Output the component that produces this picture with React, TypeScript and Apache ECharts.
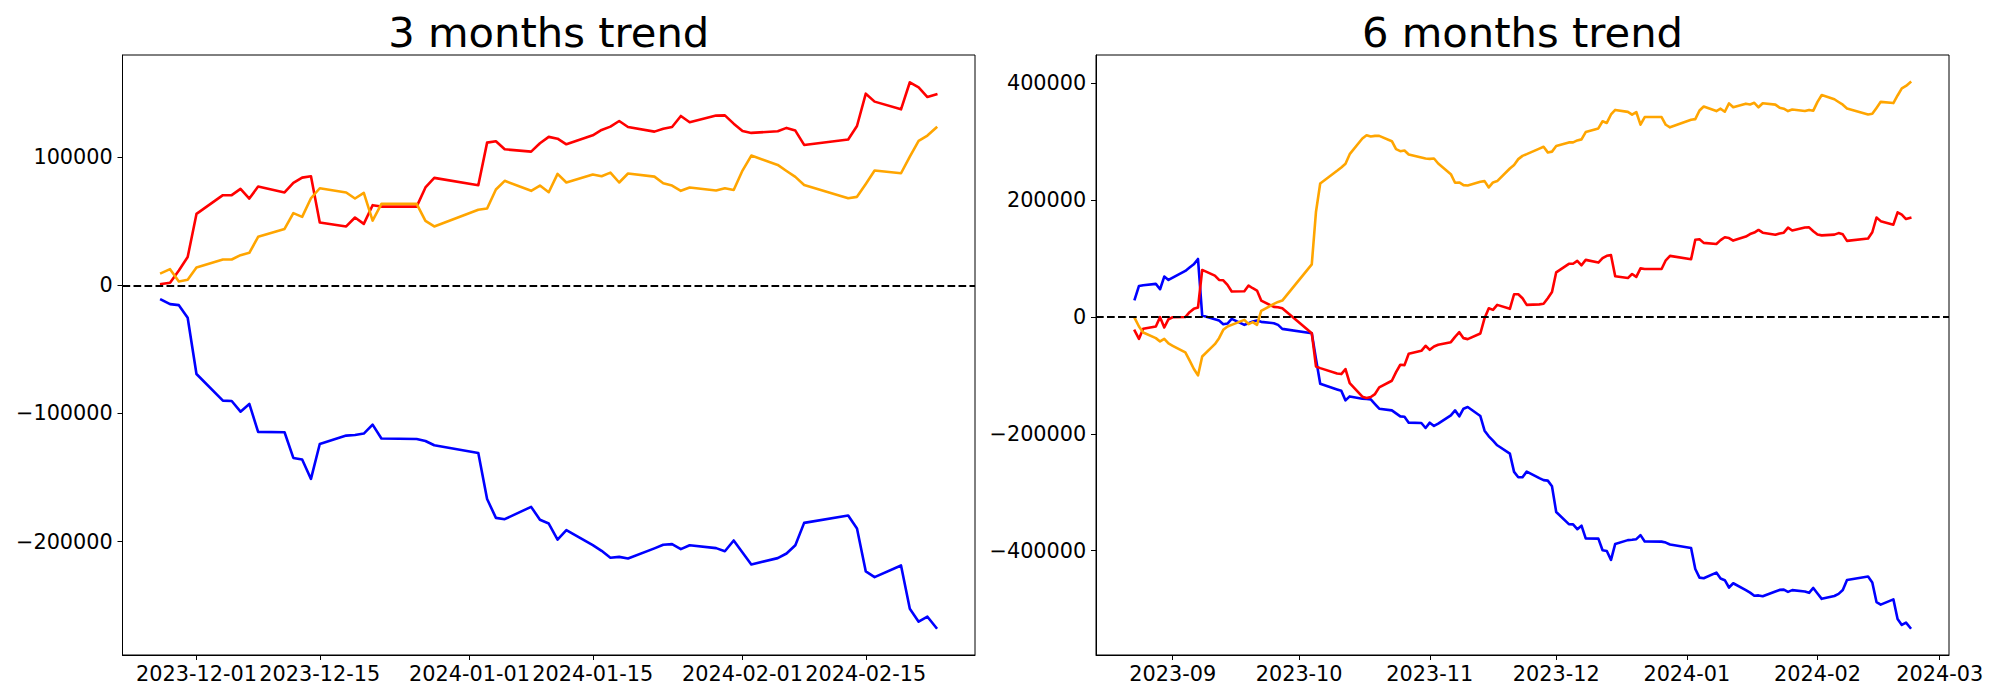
import React, { useEffect, useRef } from 'react';
import * as echarts from 'echarts';

// ---------- 3 months data ----------
const dates3m = [
  '2023-11-27', '2023-11-28', '2023-11-29', '2023-11-30', '2023-12-01',
  '2023-12-04', '2023-12-05', '2023-12-06', '2023-12-07', '2023-12-08',
  '2023-12-11', '2023-12-12', '2023-12-13', '2023-12-14', '2023-12-15',
  '2023-12-18', '2023-12-19', '2023-12-20', '2023-12-21', '2023-12-22',
  '2023-12-26', '2023-12-27', '2023-12-28',
  '2024-01-02', '2024-01-03', '2024-01-04', '2024-01-05',
  '2024-01-08', '2024-01-09', '2024-01-10', '2024-01-11', '2024-01-12',
  '2024-01-15', '2024-01-16', '2024-01-17', '2024-01-18', '2024-01-19',
  '2024-01-22', '2024-01-23', '2024-01-24', '2024-01-25', '2024-01-26',
  '2024-01-29', '2024-01-30', '2024-01-31', '2024-02-01', '2024-02-02',
  '2024-02-05', '2024-02-06', '2024-02-07', '2024-02-08',
  '2024-02-13', '2024-02-14', '2024-02-15', '2024-02-16',
  '2024-02-19', '2024-02-20', '2024-02-21', '2024-02-22', '2024-02-23',
];
const red3m = [
  900, 2000, 11500, 22000, 55700,
  70300, 70300, 75200, 67700, 77000,
  72400, 79900, 84000, 85100, 49000,
  45900, 52900, 47900, 62500, 61400,
  61400, 76300, 83800,
  78100, 111300, 112400, 106100,
  104300, 110800, 115800, 114400, 110000,
  117000, 121200, 123800, 128200, 123500,
  119900, 122200, 123500, 132100, 127200,
  132400, 132600, 126100, 120400, 118900,
  120200, 122800, 120700, 109500,
  113700, 124300, 149500, 143300,
  137300, 158400, 154500, 146900, 149000,
];
const orange3m = [
  9500, 12600, 3000, 4300, 13900,
  20100, 20100, 23500, 25300, 37800,
  44000, 56300, 53400, 67900, 75700,
  72400, 67700, 72100, 50500, 63500,
  63500, 50300, 45900,
  58900, 59900, 74700, 81500,
  73700, 77800, 72600, 86900, 80200,
  86400, 85100, 87900, 80200, 87200,
  84800, 79600, 77800, 73700, 76300,
  73900, 75700, 74400, 89500, 101200,
  93900, 89200, 84600, 78300,
  67900, 69000, 79100, 89500,
  87400, 100400, 112600, 116800, 123000,
];
const blue3m = [
  -11300, -14700, -15500, -25300, -69200,
  -90000, -90300, -98600, -92600, -114400,
  -114700, -134700, -136000, -151100, -123800,
  -117300, -116800, -115700, -108700, -119600,
  -119900, -121500, -124800,
  -130800, -166700, -181500, -182500,
  -172900, -183000, -185900, -198400, -191100,
  -202800, -207200, -212600, -211900, -213200,
  -205300, -202500, -202000, -205900, -202800,
  -205100, -207500, -199100, -208500, -217800,
  -212900, -209300, -202800, -185400,
  -179700, -189800, -223300, -227700,
  -218600, -252400, -262500, -258600, -267200,
];

// ---------- 6 months data ----------
const dates6m = [
  '2023-08-23', '2023-08-24', '2023-08-25', '2023-08-28', '2023-08-29', '2023-08-30', '2023-08-31',
  '2023-09-01', '2023-09-04', '2023-09-05', '2023-09-06', '2023-09-07', '2023-09-08',
  '2023-09-11', '2023-09-12', '2023-09-13', '2023-09-14', '2023-09-15',
  '2023-09-18', '2023-09-19', '2023-09-20', '2023-09-21', '2023-09-22',
  '2023-09-25', '2023-09-26', '2023-09-27',
  '2023-10-04', '2023-10-05', '2023-10-06',
  '2023-10-10', '2023-10-11', '2023-10-12', '2023-10-13',
  '2023-10-16', '2023-10-17', '2023-10-18', '2023-10-19', '2023-10-20',
  '2023-10-23', '2023-10-24', '2023-10-25', '2023-10-26', '2023-10-27',
  '2023-10-30', '2023-10-31', '2023-11-01', '2023-11-02', '2023-11-03',
  '2023-11-06', '2023-11-07', '2023-11-08', '2023-11-09', '2023-11-10',
  '2023-11-13', '2023-11-14', '2023-11-15', '2023-11-16', '2023-11-17',
  '2023-11-20', '2023-11-21', '2023-11-22', '2023-11-23', '2023-11-24',
  '2023-11-27', '2023-11-28', '2023-11-29', '2023-11-30', '2023-12-01',
  '2023-12-04', '2023-12-05', '2023-12-06', '2023-12-07', '2023-12-08',
  '2023-12-11', '2023-12-12', '2023-12-13', '2023-12-14', '2023-12-15',
  '2023-12-18', '2023-12-19', '2023-12-20', '2023-12-21', '2023-12-22',
  '2023-12-26', '2023-12-27', '2023-12-28',
  '2024-01-02', '2024-01-03', '2024-01-04', '2024-01-05',
  '2024-01-08', '2024-01-09', '2024-01-10', '2024-01-11', '2024-01-12',
  '2024-01-15', '2024-01-16', '2024-01-17', '2024-01-18', '2024-01-19',
  '2024-01-22', '2024-01-23', '2024-01-24', '2024-01-25', '2024-01-26',
  '2024-01-29', '2024-01-30', '2024-01-31', '2024-02-01', '2024-02-02',
  '2024-02-05', '2024-02-06', '2024-02-07', '2024-02-08',
  '2024-02-13', '2024-02-14', '2024-02-15', '2024-02-16',
  '2024-02-19', '2024-02-20', '2024-02-21', '2024-02-22', '2024-02-23',
];
const red6m = [
  -23900, -37600, -20500, -16500, -500, -18200, -4000,
  -600, -300, 8000, 13700, 15900, 80300,
  70600, 63200, 62600, 54700, 43300,
  43800, 53500, 49000, 45000, 27900,
  17100, 16500, 14800,
  -27900, -84800, -87700,
  -97000, -97900, -89400, -113300,
  -136600, -138900, -137200, -132100, -120700,
  -109300, -94500, -81900, -82500, -63000,
  -58100, -49500, -56400, -50700, -47800,
  -43300, -34200, -26200, -36400, -38100,
  -28500, -2300, 14800, 12000, 20500,
  13700, 38700, 38700, 31900, 20500,
  21400, 22500, 32000, 42500, 76200,
  90800, 90800, 95700, 88200, 97500,
  92900, 100400, 104500, 105600, 69500,
  66400, 73400, 68400, 83000, 81900,
  81900, 96800, 104300,
  98600, 131800, 132900, 126600,
  124800, 131300, 136300, 134900, 130500,
  137500, 141700, 144300, 148700, 144000,
  140400, 142700, 144000, 152600, 147700,
  152900, 153100, 146600, 140900, 139400,
  140700, 143300, 141200, 130000,
  134200, 144800, 170000, 163800,
  157800, 178900, 175000, 167400, 169500,
];
const orange6m = [
  -2300, -16500, -26800, -36400, -42100, -37600, -45500,
  -49500, -60900, -74600, -88800, -100200, -67800,
  -46700, -36400, -22200, -16500, -13700,
  -5100, -12500, -9100, -13700, 10200,
  22200, 25600, 27900,
  89900, 179900, 228300,
  249900, 255600, 261900, 278400,
  305100, 310800, 308600, 309700, 309700,
  300600, 286900, 283500, 284700, 277800,
  272700, 271000, 270400, 271000, 262400,
  244200, 229400, 230000, 225400, 224900,
  231100, 232300, 221500, 230000, 232300,
  253900, 260000, 269900, 275500, 278400,
  287900, 291000, 281400, 282700, 292300,
  298500, 298500, 301900, 303700, 316200,
  322400, 334700, 331800, 346300, 354100,
  350800, 346100, 350500, 328900, 341900,
  341900, 328700, 324300,
  337300, 338300, 353100, 359900,
  352100, 356200, 351000, 365300, 358600,
  364800, 363500, 366300, 358600, 365600,
  363200, 358000, 356200, 352100, 354700,
  352300, 354100, 352800, 367900, 379600,
  372300, 367600, 363000, 356700,
  346300, 347400, 357500, 367900,
  365800, 378800, 391000, 395200, 401400,
];
const blue6m = [
  30200, 52900, 54100, 56400, 47300, 68900, 63200,
  67200, 78600, 84300, 89900, 99100, 2300,
  -4000, -6300, -12500, -11400, -3400,
  -13700, -10800, -8000, -6300, -8500,
  -10800, -13700, -20500,
  -27900, -72000, -114400,
  -124100, -126400, -142900, -136100,
  -140000, -140600, -141200, -149200, -157100,
  -160000, -165100, -170200, -170800, -181000,
  -181600, -190100, -181000, -186700, -182700,
  -168500, -160000, -170200, -157100, -154300,
  -169700, -194700, -204400, -211800, -219700,
  -234000, -265300, -274400, -274400, -264700,
  -276000, -279400, -280200, -290000, -333900,
  -354700, -355000, -363300, -357300, -379100,
  -379400, -399400, -400700, -415800, -388500,
  -382000, -381500, -380400, -373400, -384300,
  -384600, -386200, -389500,
  -395500, -431400, -446200, -447200,
  -437600, -447700, -450600, -463100, -455800,
  -467500, -471900, -477300, -476600, -477900,
  -470000, -467200, -466700, -470600, -467500,
  -469800, -472200, -463800, -473200, -482500,
  -477600, -474000, -467500, -450100,
  -444400, -454500, -488000, -492400,
  -483300, -517100, -527200, -523300, -531900,
];

// ---------- ticks & titles ----------
const xTicks3m = ['2023-12-01', '2023-12-15', '2024-01-01', '2024-01-15', '2024-02-01', '2024-02-15'];
const xTicks6m = ['2023-09', '2023-10', '2023-11', '2023-12', '2024-01', '2024-02', '2024-03'];
const yTicks3m = [-200000, -100000, 0, 100000];
const yTicks6m = [-400000, -200000, 0, 200000, 400000];
const titles = ['3 months trend', '6 months trend'];

const RED = '#ff0000';
const ORANGE = '#ffa500';
const BLUE = '#0000ff';
const FONT = '"DejaVu Sans", "Liberation Sans", sans-serif';
const TICK_FS = 20.8;
const TITLE_FS = 41.7;
const LINE_W = 2.6;

function toTs(s: string): number {
  const p = s.split('-').map(Number);
  return Date.UTC(p[0], p[1] - 1, p.length > 2 ? p[2] : 1);
}
const pad2 = (n: number) => (n < 10 ? '0' : '') + n;
const fmtDay = (v: number) => {
  const d = new Date(v);
  return `${d.getUTCFullYear()}-${pad2(d.getUTCMonth() + 1)}-${pad2(d.getUTCDate())}`;
};
const fmtMonth = (v: number) => {
  const d = new Date(v);
  return `${d.getUTCFullYear()}-${pad2(d.getUTCMonth() + 1)}`;
};
const fmtNum = (v: number) => (v < 0 ? '\u2212' + Math.abs(v) : String(v));

function padExtent(vals: number[]): [number, number] {
  const lo = Math.min(...vals);
  const hi = Math.max(...vals);
  const m = (hi - lo) * 0.05;
  return [lo - m, hi + m];
}

type Panel = {
  grid: any;
  dates: string[];
  red: number[];
  orange: number[];
  blue: number[];
  xTicks: string[];
  xFmt: (v: number) => string;
  yTicks: number[];
  title: string;
};

const panels: Panel[] = [
  {
    grid: { left: 122.5, top: 55, width: 852.5, height: 600 },
    dates: dates3m, red: red3m, orange: orange3m, blue: blue3m,
    xTicks: xTicks3m, xFmt: fmtDay, yTicks: yTicks3m, title: titles[0],
  },
  {
    grid: { left: 1096, top: 55, width: 853, height: 600 },
    dates: dates6m, red: red6m, orange: orange6m, blue: blue6m,
    xTicks: xTicks6m, xFmt: fmtMonth, yTicks: yTicks6m, title: titles[1],
  },
];

function buildOption() {
  const grids: any[] = [];
  const xAxes: any[] = [];
  const yAxes: any[] = [];
  const series: any[] = [];
  const graphics: any[] = [];

  panels.forEach((p, i) => {
    const ts = p.dates.map(toTs);
    const [xmin, xmax] = padExtent(ts);
    const [ymin, ymax] = padExtent([...p.red, ...p.orange, ...p.blue]);
    grids.push({
      ...p.grid,
      show: true,
      borderColor: '#000',
      borderWidth: 1,
      backgroundColor: 'transparent',
      containLabel: false,
    });
    const xTickVals = p.xTicks.map(toTs);
    xAxes.push({
      type: 'value',
      gridIndex: i,
      min: xmin,
      max: xmax,
      axisLine: { show: true, onZero: false, lineStyle: { color: '#000', width: 1 } },
      axisTick: { show: true, inside: false, length: 5, lineStyle: { color: '#000', width: 1 }, customValues: xTickVals },
      axisLabel: {
        show: true,
        customValues: xTickVals,
        formatter: (v: number) => p.xFmt(v),
        margin: 8,
        color: '#000',
        fontFamily: FONT,
        fontSize: TICK_FS,
        hideOverlap: false,
      },
      splitLine: { show: false },
    });
    yAxes.push({
      type: 'value',
      gridIndex: i,
      min: ymin,
      max: ymax,
      axisLine: { show: true, onZero: false, lineStyle: { color: '#000', width: 1 } },
      axisTick: { show: true, inside: false, length: 5, lineStyle: { color: '#000', width: 1 }, customValues: p.yTicks },
      axisLabel: {
        show: true,
        customValues: p.yTicks,
        formatter: (v: number) => fmtNum(v),
        margin: 9.7,
        color: '#000',
        fontFamily: FONT,
        fontSize: TICK_FS,
      },
      splitLine: { show: false },
    });
    const mk = (vals: number[], color: string, extra: any = {}) => ({
      type: 'line',
      xAxisIndex: i,
      yAxisIndex: i,
      data: ts.map((t, k) => [t, vals[k]]),
      showSymbol: false,
      symbol: 'none',
      silent: true,
      lineStyle: { color, width: LINE_W, join: 'round', cap: 'square' },
      itemStyle: { color },
      ...extra,
    });
    series.push(mk(p.blue, BLUE));
    series.push(mk(p.red, RED));
    series.push(
      mk(p.orange, ORANGE, {
        markLine: {
          silent: true,
          symbol: ['none', 'none'],
          label: { show: false },
          lineStyle: { color: '#000', type: [7.7, 3.3], width: 2.08 },
          emphasis: { disabled: true },
          data: [{ yAxis: 0 }],
        },
      })
    );
    graphics.push({
      type: 'text',
      x: p.grid.left + p.grid.width / 2,
      y: 32.3,
      style: {
        text: p.title,
        fontFamily: FONT,
        fontSize: TITLE_FS,
        fill: '#000',
        align: 'center',
        verticalAlign: 'middle',
      },
    });
  });

  return {
    animation: false,
    backgroundColor: '#ffffff',
    grid: grids,
    xAxis: xAxes,
    yAxis: yAxes,
    series,
    graphic: graphics,
  };
}

export default function App() {
  const ref = useRef<HTMLDivElement | null>(null);
  useEffect(() => {
    if (!ref.current) return;
    const chart = echarts.init(ref.current, undefined, { renderer: 'svg' });
    chart.setOption(buildOption() as any);
    return () => {
      chart.dispose();
    };
  }, []);
  return (
    <div
      ref={ref}
      style={{ position: 'absolute', left: 0, top: 0, width: 2000, height: 700, background: '#fff' }}
    />
  );
}
